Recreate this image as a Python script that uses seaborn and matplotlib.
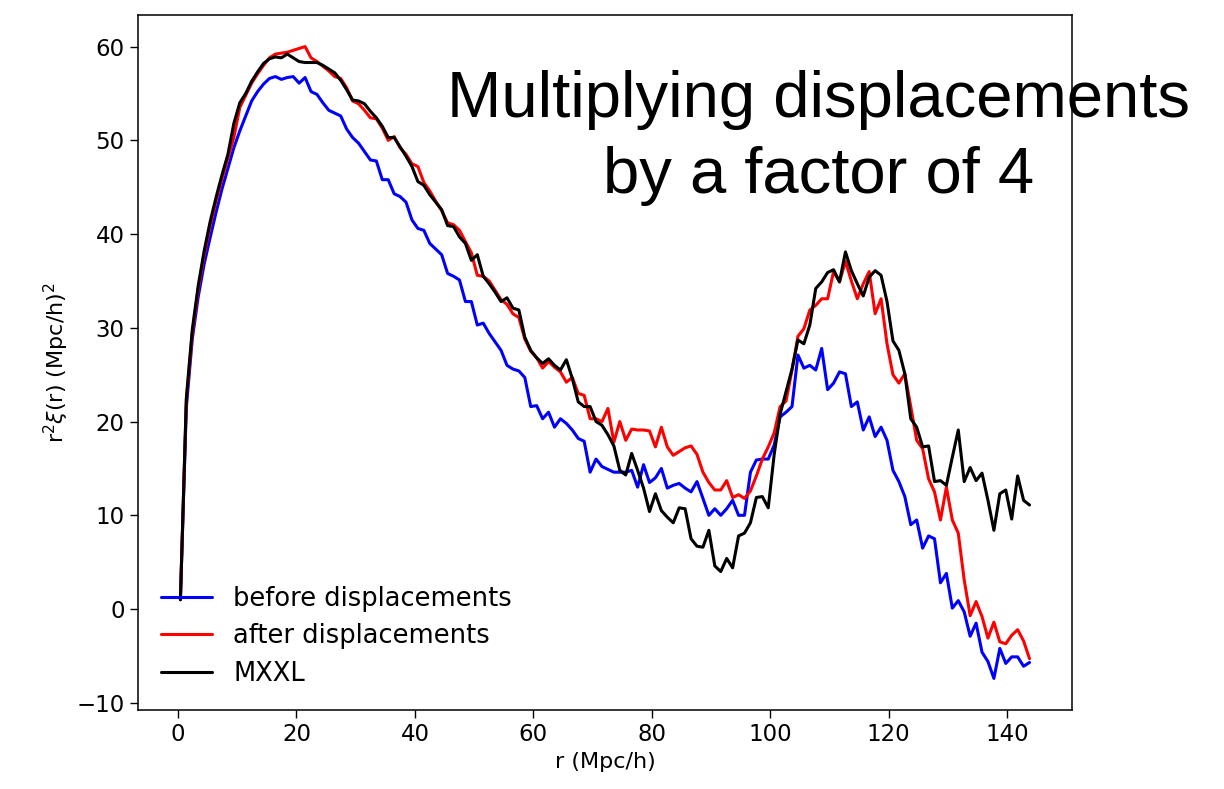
import numpy as np
import pandas as pd
import matplotlib
matplotlib.use("Agg")
import matplotlib.pyplot as plt
import seaborn as sns

# Separation bins r (Mpc/h): 144 bins of ~1 Mpc/h width
r = np.linspace(0.4, 143.8, 144)

# r^2 xi(r) before the displacement step
before = [
    1.0, 21.5, 28.8, 33.3, 36.8, 39.6, 42.3, 44.8, 47.0, 49.2,
    51.0, 52.6, 54.2, 55.2, 56.0, 56.6, 56.8, 56.5, 56.7, 56.8,
    56.1, 56.7, 55.2, 54.9, 54.0, 53.2, 52.9, 52.6, 51.2, 50.3,
    49.7, 48.8, 47.9, 47.8, 45.8, 45.8, 44.3, 44.0, 43.4, 41.5,
    40.6, 40.4, 39.0, 38.4, 37.8, 35.8, 35.5, 35.1, 32.8, 32.8,
    30.3, 30.5, 29.4, 28.5, 27.6, 26.0, 25.6, 25.4, 24.7, 21.6,
    21.7, 20.3, 21.0, 19.4, 20.3, 19.8, 19.1, 18.2, 17.9, 14.6,
    16.0, 15.2, 14.9, 14.6, 14.6, 14.6, 14.8, 13.0, 15.4, 13.5,
    14.0, 15.0, 12.9, 13.2, 13.4, 12.9, 12.5, 13.6, 11.8, 10.0,
    10.7, 10.0, 10.7, 11.6, 10.0, 10.0, 14.6, 15.9, 16.0, 16.0,
    17.5, 20.5, 21.0, 21.6, 27.1, 25.7, 26.0, 25.5, 27.8, 23.4,
    24.1, 25.3, 25.1, 21.6, 22.1, 19.1, 20.5, 18.4, 19.4, 18.0,
    14.8, 13.6, 12.0, 9.0, 9.5, 6.5, 7.8, 7.5, 2.8, 3.8,
    0.1, 0.9, -0.3, -2.9, -1.5, -4.6, -5.6, -7.4, -4.2, -5.8,
    -5.1, -5.1, -6.1, -5.7,
]

# r^2 xi(r) after multiplying the displacements by 4
after = [
    1.0, 22.2, 29.4, 34.1, 37.8, 40.9, 43.5, 45.9, 48.1, 50.3,
    53.5, 54.8, 56.1, 57.1, 58.0, 58.8, 59.2, 59.3, 59.4, 59.6,
    59.8, 60.0, 58.8, 58.4, 57.9, 57.4, 56.8, 56.6, 55.6, 54.2,
    53.9, 53.2, 52.4, 52.3, 51.3, 50.0, 50.4, 49.2, 48.5, 47.5,
    47.2, 45.5, 44.6, 43.5, 42.5, 41.2, 41.0, 40.4, 39.2, 38.0,
    35.6, 35.5, 35.0, 34.0, 33.0, 32.5, 31.5, 31.1, 28.8, 27.5,
    26.8, 25.7, 26.4, 25.8, 25.3, 24.2, 24.7, 23.0, 22.8, 20.3,
    20.3, 20.0, 21.4, 17.8, 20.0, 18.0, 19.2, 19.1, 19.1, 19.0,
    17.3, 19.4, 17.3, 16.4, 16.8, 17.2, 17.4, 16.5, 14.6, 13.5,
    12.7, 12.7, 13.7, 11.9, 12.2, 11.8, 12.6, 14.2, 16.0, 17.3,
    18.8, 21.6, 22.2, 25.5, 29.1, 29.9, 31.9, 32.4, 33.1, 33.1,
    36.0, 34.9, 37.1, 35.0, 33.1, 34.7, 36.0, 31.5, 33.1, 28.3,
    25.0, 24.1, 25.1, 21.6, 18.0, 17.1, 13.9, 12.5, 9.5, 13.0,
    9.5, 8.1, 3.1, -0.7, 0.8, -0.8, -3.1, -1.4, -3.5, -3.7,
    -2.8, -2.2, -3.4, -5.3,
]

# r^2 xi(r) measured in the MXXL simulation
mxxl = [
    1.0, 22.5, 29.8, 34.5, 38.2, 41.3, 43.9, 46.3, 48.5, 51.8,
    54.0, 55.0, 56.3, 57.3, 58.2, 58.7, 58.9, 58.8, 59.2, 58.8,
    58.4, 58.3, 58.3, 58.3, 58.0, 57.6, 57.2, 56.4, 55.4, 54.3,
    54.2, 53.9, 53.1, 52.4, 51.5, 50.3, 50.3, 49.3, 48.3, 47.2,
    45.6, 45.2, 44.2, 43.4, 42.6, 40.9, 40.8, 39.7, 39.0, 37.2,
    37.8, 35.5, 34.7, 33.8, 32.8, 33.2, 32.1, 31.9, 29.0, 27.6,
    26.8, 26.2, 26.7, 26.0, 25.5, 26.6, 24.6, 22.1, 21.6, 21.6,
    20.0, 19.6, 18.6, 17.4, 14.8, 14.3, 16.6, 14.8, 12.9, 10.4,
    12.3, 10.5, 9.8, 9.2, 10.8, 10.7, 7.5, 6.7, 6.6, 8.4,
    4.6, 4.0, 5.4, 4.4, 7.8, 8.1, 9.2, 11.9, 12.0, 10.8,
    16.5, 20.8, 23.2, 25.6, 28.7, 28.3, 30.3, 34.2, 34.9, 35.9,
    36.2, 34.9, 38.1, 36.1, 34.7, 33.4, 35.4, 36.1, 35.6, 32.8,
    28.6, 27.6, 25.1, 20.3, 19.4, 17.3, 17.4, 13.6, 13.7, 13.2,
    16.2, 19.1, 13.6, 15.1, 13.7, 14.5, 11.6, 8.4, 12.3, 12.7,
    9.6, 14.2, 11.6, 11.1,
]

series_names = ["before displacements", "after displacements", "MXXL"]
series_colors = ["blue", "red", "black"]
x_ticks = [0, 20, 40, 60, 80, 100, 120, 140]
y_ticks = [-10, 0, 10, 20, 30, 40, 50, 60]

df = pd.concat(
    [
        pd.DataFrame({"r": r, "xi": vals, "series": name})
        for name, vals in zip(series_names, [before, after, mxxl])
    ],
    ignore_index=True,
)

sns.set_theme(style="ticks")
plt.rcParams["font.family"] = ["DejaVu Sans"]
plt.rcParams["axes.edgecolor"] = "black"
plt.rcParams["axes.linewidth"] = 1.1
plt.rcParams["text.color"] = "black"

fig = plt.figure(figsize=(12.24, 7.89), dpi=100)
ax = fig.add_axes([0.1127, 0.1001, 0.7631, 0.8809])

sns.lineplot(
    data=df, x="r", y="xi", hue="series", hue_order=series_names,
    palette=dict(zip(series_names, series_colors)),
    estimator=None, sort=False, linewidth=2.2, ax=ax,
)

ax.set_xticks(x_ticks)
ax.set_yticks(y_ticks)
ax.tick_params(axis="both", labelsize=16.5, length=6, width=1.0,
               color="black", labelcolor="black", direction="out")
ax.set_xlabel("r (Mpc/h)", fontsize=16, color="black")
ax.set_ylabel(r"r$^2\xi$(r) (Mpc/h)$^2$", fontsize=16, color="black")

handles, labels = ax.get_legend_handles_labels()
leg = ax.legend(handles, labels, loc="lower left", frameon=False, fontsize=18.5,
                handlelength=2.0, labelspacing=0.45)
for t in leg.get_texts():
    t.set_color("black")

for s in ax.spines.values():
    s.set_visible(True)
    s.set_color("black")

title_font = dict(family="Liberation Sans", fontsize=47, color="black",
                  ha="center", va="baseline")
fig.text(0.6687, 0.8517, "Multiplying displacements", **title_font)
fig.text(0.6687, 0.7554, "by a factor of 4", **title_font)

fig.savefig("out.png", dpi=100)
